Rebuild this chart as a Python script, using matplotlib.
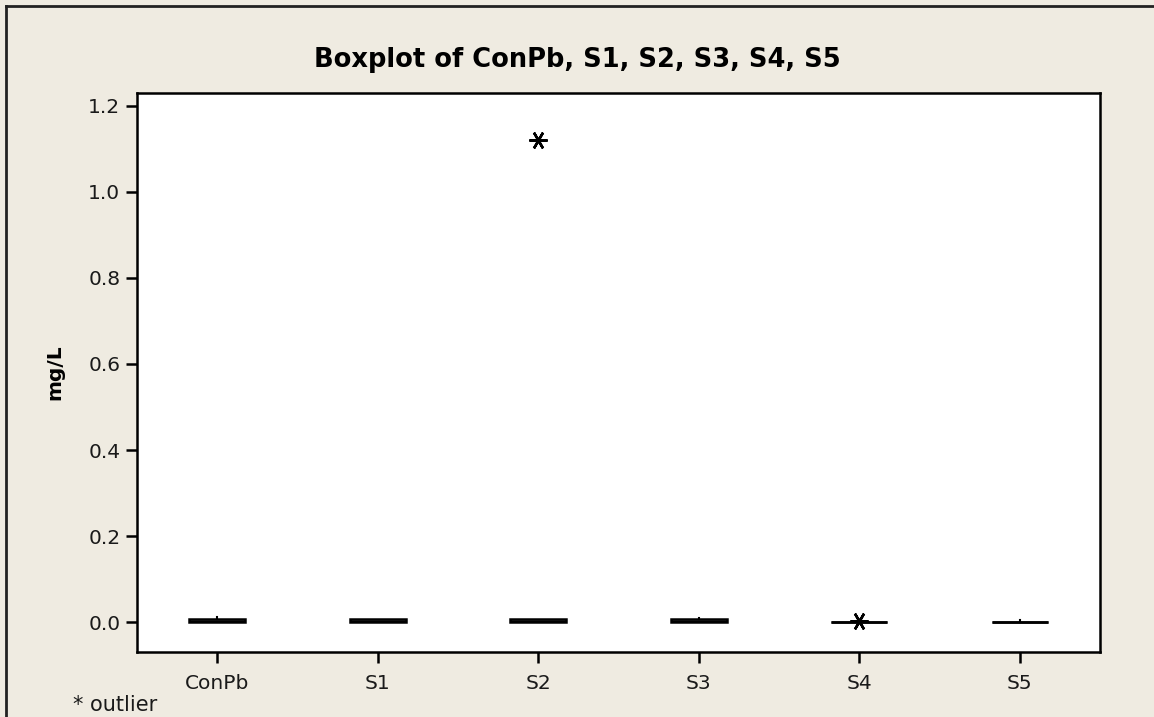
import matplotlib
matplotlib.use("Agg")
import matplotlib.pyplot as plt
from matplotlib.lines import Line2D

# Data
categories = ["ConPb", "S1", "S2", "S3", "S4", "S5"]
q1 = [0.000, 0.000, 0.000, 0.000, 0.000, 0.000]
medians = [0.003, 0.003, 0.003, 0.003, 0.000, 0.000]
q3 = [0.006, 0.006, 0.006, 0.006, 0.000, 0.000]
whisker_low = [0.000, 0.000, 0.000, 0.000, 0.000, 0.000]
whisker_high = [0.011, 0.006, 0.006, 0.010, 0.000, 0.004]
outliers = [[], [], [1.12], [], [0.003], []]
yticks = [0.0, 0.2, 0.4, 0.6, 0.8, 1.0, 1.2]

bg = "#EFEBE1"
fig = plt.figure(figsize=(11.54, 7.17), dpi=100, facecolor=bg)
ax = fig.add_axes([137/1154, 65/717, (1100-137)/1154, (652-93)/717])
ax.set_facecolor("white")

stats = []
for i, c in enumerate(categories):
    stats.append(dict(label=c, q1=q1[i], med=medians[i], q3=q3[i],
                      whislo=whisker_low[i], whishi=whisker_high[i],
                      fliers=outliers[i]))

ax.bxp(stats, positions=range(1, len(categories) + 1), widths=0.35,
       patch_artist=True, showcaps=False,
       boxprops=dict(facecolor="white", edgecolor="black", linewidth=1.8),
       medianprops=dict(color="black", linewidth=1.8),
       whiskerprops=dict(color="black", linewidth=1.5),
       flierprops=dict(marker=(6, 2, 90), markersize=13, markeredgecolor="black",
                       markeredgewidth=1.8, markerfacecolor="black"))

ax.set_xlim(0.5, 6.5)
ax.set_ylim(-0.0696, 1.230)
ax.set_yticks(yticks)
ax.set_yticklabels([f"{v:.1f}" for v in yticks])
ax.set_xticks(range(1, len(categories) + 1))
ax.set_xticklabels(categories)
ax.tick_params(axis="both", direction="out", length=8, width=1.8,
               labelsize=14.5, pad=4, colors="black", labelcolor="#1a1a1a")
ax.tick_params(axis="x", pad=8)
for s in ax.spines.values():
    s.set_linewidth(1.8)
    s.set_color("black")

ax.set_ylabel("mg/L", fontsize=14.5, fontweight="bold", labelpad=17)
fig.text(577/1154, 1 - 60/717, "Boxplot of ConPb, S1, S2, S3, S4, S5",
         ha="center", va="center", fontsize=18.5, fontweight="bold")
fig.text(73/1154, 1 - 705/717, "* outlier", ha="left", va="center", fontsize=15,
         color="#1a1a1a")

# frame lines at top and left
fig.add_artist(Line2D([6/1154, 1], [1 - 6/717, 1 - 6/717], color="#222222", linewidth=2,
                      transform=fig.transFigure))
fig.add_artist(Line2D([6/1154, 6/1154], [0, 1 - 6/717], color="#222222", linewidth=2,
                      transform=fig.transFigure))

fig.savefig("out.png", dpi=100, facecolor=bg)
